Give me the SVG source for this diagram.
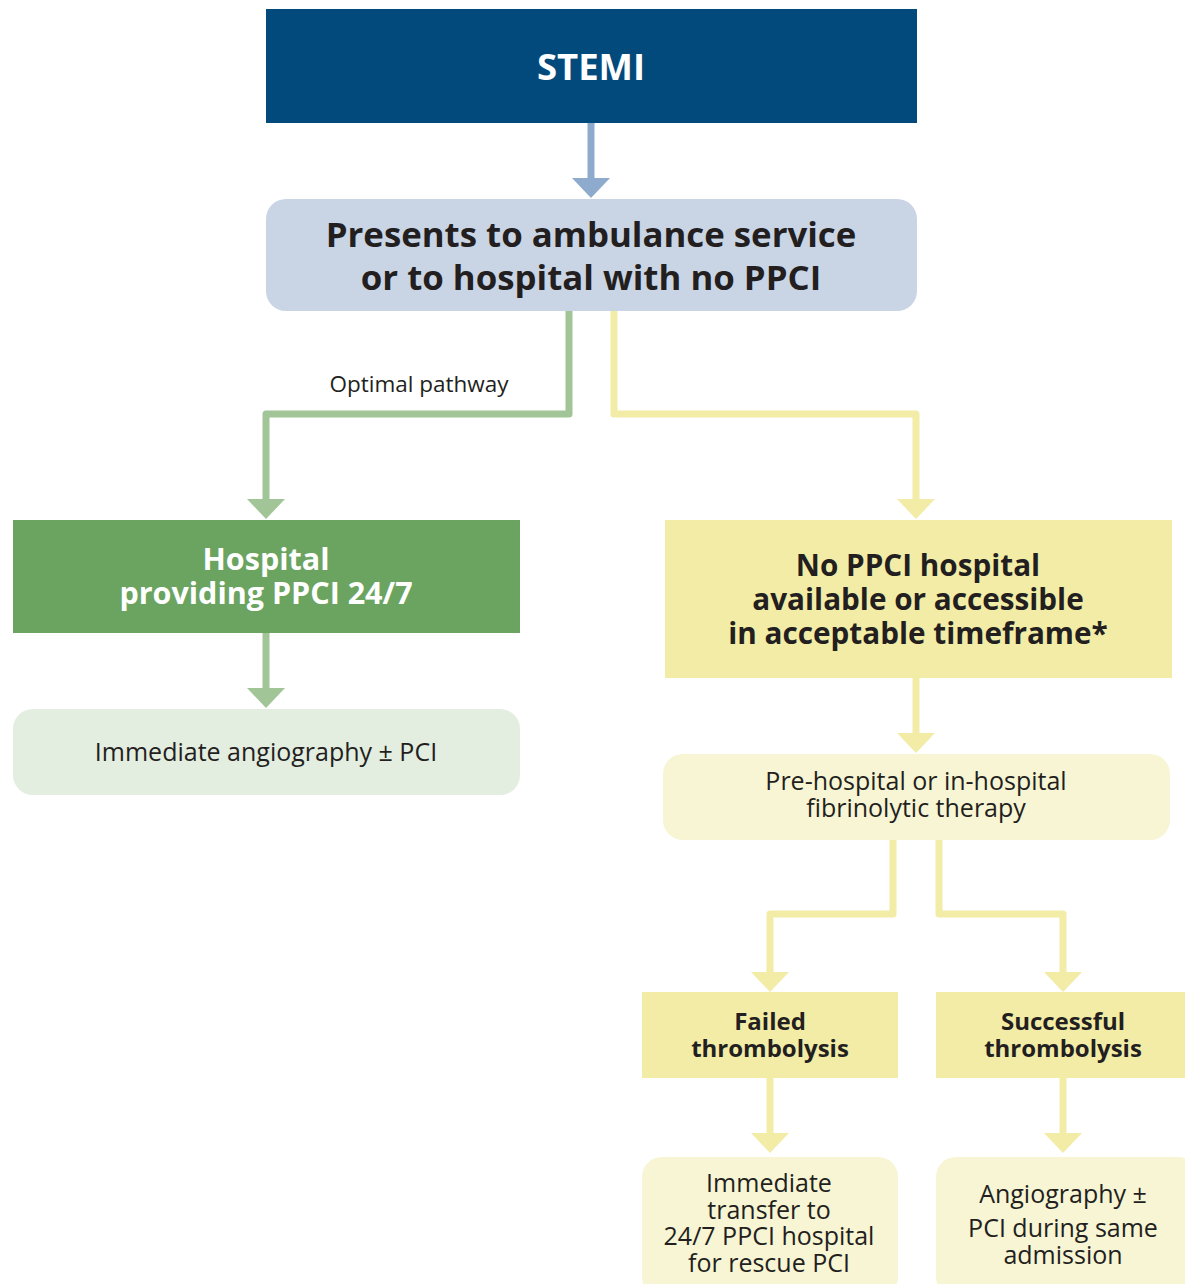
<svg xmlns="http://www.w3.org/2000/svg" width="1185" height="1284" viewBox="0 0 1185 1284">
<style>
.t{font-family:"Open Sans","Noto Sans","Liberation Sans",sans-serif;text-anchor:middle;fill:#231f20}
.b{font-weight:700}
.w{fill:#ffffff}
.c{fill:none;stroke-width:7;stroke-linejoin:round}
.blue{stroke:#8eaacc}
.grn{stroke:#a2c597}
.yel{stroke:#f2eca6}
</style>
<defs>
<marker id="ab" viewBox="0 0 20 38" refX="0" refY="19" markerWidth="20" markerHeight="38" markerUnits="userSpaceOnUse" orient="auto"><path d="M0,0 L20,19 L0,38 Z" fill="#8eaacc"/></marker>
<marker id="ag" viewBox="0 0 20 38" refX="0" refY="19" markerWidth="20" markerHeight="38" markerUnits="userSpaceOnUse" orient="auto"><path d="M0,0 L20,19 L0,38 Z" fill="#a2c597"/></marker>
<marker id="ay" viewBox="0 0 20 38" refX="0" refY="19" markerWidth="20" markerHeight="38" markerUnits="userSpaceOnUse" orient="auto"><path d="M0,0 L20,19 L0,38 Z" fill="#f2eca6"/></marker>
</defs>
<rect width="1185" height="1284" fill="#ffffff"/>
<g id="connectors">
<path class="c blue" d="M591,123 V178" marker-end="url(#ab)"/>
<path class="c grn" d="M569,311 V414 H266 V499" marker-end="url(#ag)"/>
<path class="c yel" d="M614,311 V414 H916 V499" marker-end="url(#ay)"/>
<path class="c grn" d="M266,633 V688" marker-end="url(#ag)"/>
<path class="c yel" d="M916,678 V733" marker-end="url(#ay)"/>
<path class="c yel" d="M893,840 V914 H770 V972" marker-end="url(#ay)"/>
<path class="c yel" d="M939,840 V914 H1063 V972" marker-end="url(#ay)"/>
<path class="c yel" d="M770,1078 V1133" marker-end="url(#ay)"/>
<path class="c yel" d="M1063,1078 V1133" marker-end="url(#ay)"/>
<text class="t" x="419" y="392" font-size="22.5">Optimal pathway</text>
</g>
<g id="stemi">
<rect x="266" y="9" width="651" height="114" fill="#034a7c"/>
<text class="t b w" x="591" y="80" font-size="36.5">STEMI</text>
</g>
<g id="presents">
<rect x="266" y="199" width="651" height="112" rx="20" fill="#c9d4e5"/>
<text class="t b" x="591" y="247" font-size="34.8">Presents to ambulance service</text>
<text class="t b" x="591" y="290" font-size="34.8">or to hospital with no PPCI</text>
</g>
<g id="ppci-hospital">
<rect x="13" y="520" width="507" height="113" fill="#6ba461"/>
<text class="t b w" x="266" y="570" font-size="30.5">Hospital</text>
<text class="t b w" x="266" y="604" font-size="30.5">providing PPCI 24/7</text>
</g>
<g id="immediate-angio">
<rect x="13" y="709" width="507" height="86" rx="20" fill="#e3ede0"/>
<text class="t" x="266" y="761" font-size="25">Immediate angiography ± PCI</text>
</g>
<g id="no-ppci">
<rect x="665" y="520" width="507" height="158" fill="#f2eca6"/>
<text class="t b" x="918" y="576" font-size="29.7">No PPCI hospital</text>
<text class="t b" x="918" y="610" font-size="29.7">available or accessible</text>
<text class="t b" x="918" y="644" font-size="29.7">in acceptable timeframe*</text>
</g>
<g id="fibrinolytic">
<rect x="663" y="754" width="507" height="86" rx="20" fill="#f7f5d3"/>
<text class="t" x="916" y="790" font-size="25">Pre-hospital or in-hospital</text>
<text class="t" x="916" y="817" font-size="25">fibrinolytic therapy</text>
</g>
<g id="failed">
<rect x="642" y="992" width="256" height="86" fill="#f2eca6"/>
<text class="t b" x="770" y="1030" font-size="24">Failed</text>
<text class="t b" x="770" y="1057" font-size="24">thrombolysis</text>
</g>
<g id="successful">
<rect x="936" y="992" width="260" height="86" fill="#f2eca6"/>
<text class="t b" x="1063" y="1030" font-size="24">Successful</text>
<text class="t b" x="1063" y="1057" font-size="24">thrombolysis</text>
</g>
<g id="rescue">
<rect x="642" y="1157" width="256" height="140" rx="20" fill="#f7f5d3"/>
<text class="t" x="769" y="1192" font-size="25">Immediate</text>
<text class="t" x="769" y="1219" font-size="25">transfer to</text>
<text class="t" x="769" y="1245" font-size="25">24/7 PPCI hospital</text>
<text class="t" x="769" y="1272" font-size="25">for rescue PCI</text>
</g>
<g id="angiography">
<rect x="936" y="1157" width="262" height="140" rx="20" fill="#f7f5d3"/>
<text class="t" x="1063" y="1203" font-size="25">Angiography ±</text>
<text class="t" x="1063" y="1237" font-size="25">PCI during same</text>
<text class="t" x="1063" y="1264" font-size="25">admission</text>
</g>
</svg>
